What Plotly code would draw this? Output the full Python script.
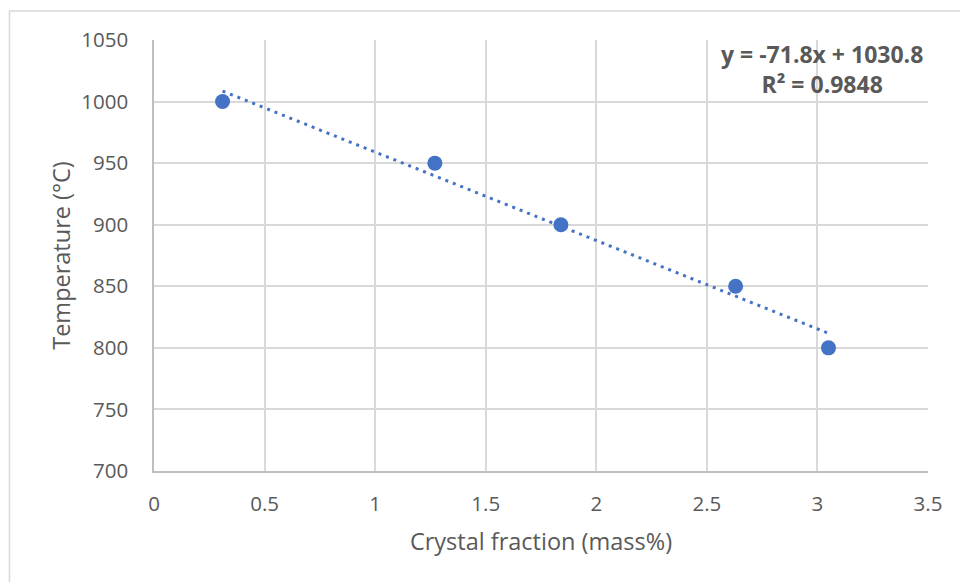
import numpy as np
import plotly.graph_objects as go

# Data
crystal_fraction = [0.31, 1.27, 1.84, 2.63, 3.05]
temperature = [1000, 950, 900, 850, 800]
trend_slope = -71.8
trend_intercept = 1030.8
trend_label = "y = -71.8x + 1030.8<br>R² = 0.9848"
x_ticks = [0, 0.5, 1, 1.5, 2, 2.5, 3, 3.5]
x_tick_labels = ["0", "0.5", "1", "1.5", "2", "2.5", "3", "3.5"]
y_ticks = [700, 750, 800, 850, 900, 950, 1000, 1050]
y_tick_labels = ["700", "750", "800", "850", "900", "950", "1000", "1050"]

BLUE = "#4472C4"
TXT = "#595959"
GRID = "#d9d9d9"
FONT = "Open Sans, sans-serif"

tx = np.linspace(min(crystal_fraction), max(crystal_fraction), 50)
ty = trend_slope * tx + trend_intercept

fig = go.Figure()
fig.add_trace(go.Scatter(x=tx, y=ty, mode="lines",
                         line=dict(color=BLUE, width=3, dash="3px,5px"),
                         hoverinfo="skip", showlegend=False))
fig.add_trace(go.Scatter(x=crystal_fraction, y=temperature, mode="markers",
                         marker=dict(color=BLUE, size=15),
                         showlegend=False))

fig.update_layout(
    width=960, height=582,
    margin=dict(l=154, r=32, t=40, b=111),
    paper_bgcolor="white", plot_bgcolor="white",
    font=dict(family=FONT, color=TXT, size=16),
    xaxis=dict(range=[0, 3.5], tickvals=x_ticks, ticktext=x_tick_labels,
               showgrid=True, gridcolor=GRID, gridwidth=1.5,
               showline=True, linecolor="#bfbfbf", linewidth=1.5,
               zeroline=False, ticks="", ticklabelstandoff=14,
               title=dict(text="Crystal fraction (mass%)", font=dict(size=23.5, color=TXT), standoff=17),
               tickfont=dict(size=20.5, color=TXT)),
    yaxis=dict(range=[700, 1050], tickvals=y_ticks, ticktext=y_tick_labels,
               showgrid=True, gridcolor=GRID, gridwidth=1.5,
               showline=True, linecolor="#bfbfbf", linewidth=1.5,
               zeroline=False, ticks="", ticklabelstandoff=20,
               title=dict(text="Temperature (°C)", font=dict(size=23.5, color=TXT), standoff=4),
               tickfont=dict(size=20.5, color=TXT)),
    annotations=[dict(text="<b>" + trend_label + "</b>", xref="paper", yref="paper",
                      x=0.863, y=1.01, xanchor="center", yanchor="top",
                      showarrow=False, align="center",
                      font=dict(size=23, color=TXT, family=FONT))],
    shapes=[dict(type="rect", xref="paper", yref="paper",
                 x0=-0.1867, x1=1.5, y0=-0.6, y1=1.0673,
                 line=dict(color=GRID, width=1.5), layer="below")],
)

fig.write_html("out.html")
